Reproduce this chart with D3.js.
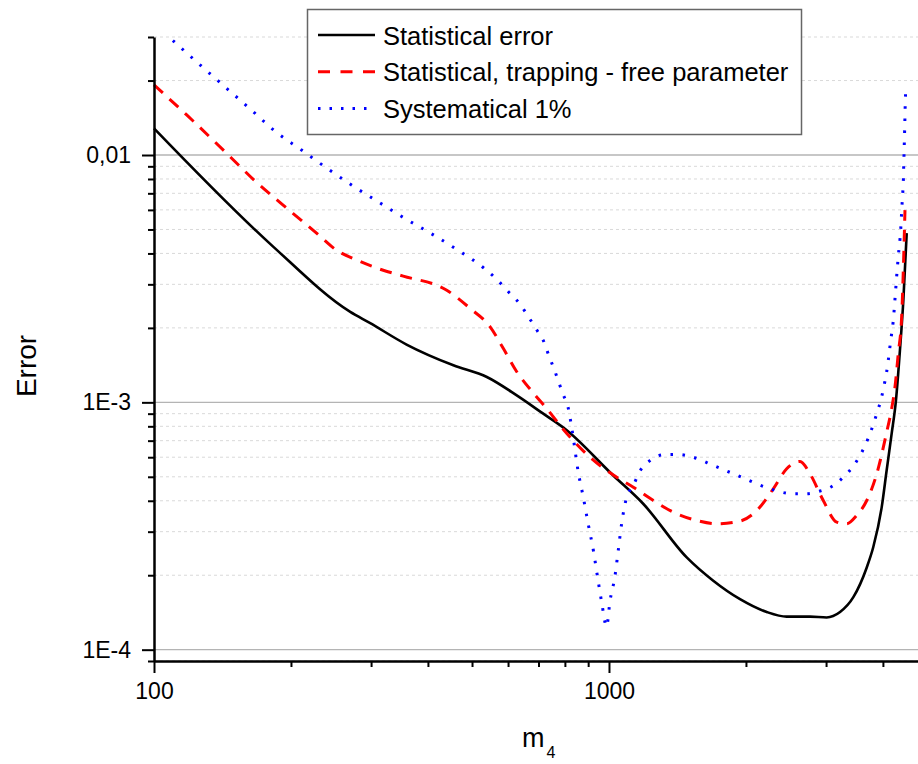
<!DOCTYPE html>
<html>
<head>
<meta charset="utf-8">
<script src="https://d3js.org/d3.v7.min.js"></script>
<style>
  body { margin: 0; background: #fff; }
  svg { display: block; font-family: Arial, "Liberation Sans", sans-serif; }
  .axis .domain { stroke: #000; stroke-width: 2.5; }
  .axis .tick line { stroke: #000; stroke-width: 2; }
  .axis text { font-size: 23px; fill: #000; font-family: Arial, "Liberation Sans", sans-serif; }
</style>
</head>
<body>
<div id="chart"></div>
<script>
// Statistical error (black solid)
const statM = [100, 183, 270, 298, 359, 455, 539, 627, 717, 800, 1022, 1189, 1482, 1695, 1941, 2222, 2458, 2766, 3009, 3220, 3444, 3686, 3810, 3976, 4076, 4181, 4273, 4360, 4436, 4512];
const statErr = [0.01282, 0.004253, 0.00232, 0.002095, 0.001713, 0.001412, 0.001266, 0.001067, 0.0009, 0.000782, 0.000506, 0.000389, 0.000236, 0.00019, 0.00016, 0.000142, 0.000136, 0.000136, 0.000135, 0.000142, 0.000163, 0.000215, 0.00026, 0.000377, 0.00053, 0.000747, 0.001019, 0.001624, 0.002588, 0.004833];

// Statistical, trapping - free parameter (red dashed)
const trapM = [100, 118, 147, 163, 202, 228, 252, 279, 319, 353, 440, 495, 548, 586, 627, 682, 730, 794, 908, 1040, 1131, 1252, 1384, 1558, 1725, 1941, 2112, 2297, 2458, 2630, 2766, 2958, 3166, 3330, 3503, 3686, 3877, 4076, 4181, 4252, 4323, 4398, 4473];
const trapErr = [0.0192, 0.01452, 0.00984, 0.00817, 0.00581, 0.00482, 0.00412, 0.00376, 0.00342, 0.00324, 0.00284, 0.0024, 0.00202, 0.00165, 0.00133, 0.00109, 0.000943, 0.000777, 0.0006, 0.000498, 0.000454, 0.000401, 0.00036, 0.000333, 0.000323, 0.000331, 0.000365, 0.000447, 0.000539, 0.000577, 0.000514, 0.000401, 0.000328, 0.000323, 0.000349, 0.000401, 0.000514, 0.000756, 0.000943, 0.001153, 0.001575, 0.002215, 0.005988];

// Systematical 1% (blue dotted)
const sysM = [110, 125, 143, 163, 185, 211, 240, 274, 313, 356, 406, 463, 529, 564, 601, 638, 665, 694, 721, 738, 758, 775, 794, 813, 832, 856, 878, 900, 924, 944, 964, 988, 1005, 1031, 1048, 1066, 1094, 1131, 1166, 1231, 1316, 1409, 1507, 1710, 1957, 2222, 2542, 2710, 2899, 3088, 3289, 3473, 3611, 3715, 3810, 3892, 3968, 4022, 4073, 4110, 4146, 4181, 4215, 4258, 4289, 4323, 4376, 4406, 4436, 4452, 4467, 4481, 4496];
const sysErr = [0.02903, 0.02351, 0.0189, 0.01531, 0.01243, 0.01047, 0.00884, 0.00749, 0.00642, 0.00554, 0.00482, 0.00415, 0.00351, 0.00317, 0.0028, 0.00249, 0.00222, 0.00196, 0.00174, 0.00154, 0.00136, 0.00121, 0.00107, 0.000955, 0.000747, 0.000522, 0.000414, 0.000323, 0.000252, 0.000196, 0.000155, 0.000124, 0.000157, 0.000199, 0.000252, 0.000323, 0.000414, 0.000461, 0.000522, 0.000582, 0.000614, 0.000616, 0.000605, 0.000552, 0.000498, 0.000452, 0.000427, 0.000427, 0.000437, 0.000457, 0.000502, 0.000565, 0.000639, 0.000718, 0.000814, 0.00092, 0.001038, 0.001166, 0.001314, 0.001479, 0.001685, 0.001897, 0.002134, 0.002711, 0.003236, 0.003877, 0.004969, 0.006272, 0.007973, 0.01022, 0.01302, 0.0167, 0.0192];

const seriesNames = ["Statistical error", "Statistical, trapping - free parameter", "Systematical 1%"];

const xTickValues = [100, 1000];
const xTickLabels = ["100", "1000"];
const yTickValues = [1e-4, 1e-3, 1e-2];
const yTickLabels = ["1E-4", "1E-3", "0,01"];

const width = 918, height = 764;
const margin = { top: 37, right: -9, bottom: 103, left: 154 };

const svg = d3.select("#chart").append("svg")
  .attr("width", width)
  .attr("height", height);

const x = d3.scaleLog()
  .domain([100, 5000])
  .range([margin.left, width - margin.right]);

const y = d3.scaleLog()
  .domain([9e-5, 0.03])
  .range([height - margin.bottom, margin.top]);

const isMajor = v => Math.abs(Math.log10(v) - Math.round(Math.log10(v))) < 1e-6;
const yMinor = y.ticks().filter(v => !isMajor(v));
const xMinor = x.ticks().filter(v => !isMajor(v));

// grid lines
svg.append("g")
  .selectAll("line")
  .data(yMinor)
  .enter()
  .append("line")
  .attr("x1", margin.left)
  .attr("x2", width)
  .attr("y1", d => y(d))
  .attr("y2", d => y(d))
  .attr("stroke", "#d9d9d9")
  .attr("stroke-width", 1)
  .attr("stroke-dasharray", "3 3");

svg.append("g")
  .selectAll("line")
  .data(yTickValues)
  .enter()
  .append("line")
  .attr("x1", margin.left)
  .attr("x2", width)
  .attr("y1", d => y(d))
  .attr("y2", d => y(d))
  .attr("stroke", "#b4b4b4")
  .attr("stroke-width", 1.3);

// curves
const line = (mArr, eArr) => d3.line()
  .x(i => x(mArr[i]))
  .y(i => y(eArr[i]))
  .curve(d3.curveMonotoneX)(d3.range(mArr.length));

svg.append("path")
  .attr("d", line(statM, statErr))
  .attr("fill", "none")
  .attr("stroke", "#000")
  .attr("stroke-width", 2.6);

svg.append("path")
  .attr("d", line(trapM, trapErr))
  .attr("fill", "none")
  .attr("stroke", "#ff0000")
  .attr("stroke-width", 3)
  .attr("stroke-dasharray", "12 9");

svg.append("path")
  .attr("d", line(sysM, sysErr))
  .attr("fill", "none")
  .attr("stroke", "#0000ff")
  .attr("stroke-width", 3)
  .attr("stroke-dasharray", "2.5 9.5");

// axes
const yAxisMinor = svg.append("g")
  .attr("class", "axis")
  .attr("transform", `translate(${margin.left},0)`)
  .call(d3.axisLeft(y).tickValues(yMinor).tickSize(6).tickSizeOuter(0).tickFormat(""));
yAxisMinor.select(".domain").remove();

svg.append("g")
  .attr("class", "axis")
  .attr("transform", `translate(${margin.left},0)`)
  .call(d3.axisLeft(y).tickValues(yTickValues).tickSize(12).tickSizeOuter(0).tickPadding(11)
    .tickFormat((d, i) => yTickLabels[i]));

const xAxisMinor = svg.append("g")
  .attr("class", "axis")
  .attr("transform", `translate(0,${height - margin.bottom})`)
  .call(d3.axisBottom(x).tickValues(xMinor).tickSize(6).tickSizeOuter(0).tickFormat(""));
xAxisMinor.select(".domain").remove();

svg.append("g")
  .attr("class", "axis")
  .attr("transform", `translate(0,${height - margin.bottom})`)
  .call(d3.axisBottom(x).tickValues(xTickValues).tickSize(12).tickSizeOuter(0).tickPadding(10)
    .tickFormat((d, i) => xTickLabels[i]));

// axis titles
svg.append("text")
  .attr("transform", "translate(36,366) rotate(-90)")
  .attr("text-anchor", "middle")
  .attr("font-size", 28)
  .text("Error");

const xt = svg.append("text")
  .attr("x", 522)
  .attr("y", 747)
  .attr("font-size", 27);
xt.append("tspan").text("m");
xt.append("tspan").attr("font-size", 16).attr("dy", 11).attr("dx", 2).text("4");

// legend
const legend = svg.append("g");
legend.append("rect")
  .attr("x", 307.5).attr("y", 9.5)
  .attr("width", 494).attr("height", 125)
  .attr("fill", "#fff")
  .attr("stroke", "#666")
  .attr("stroke-width", 1.5);

const legendStyles = [
  { color: "#000", dash: null, w: 2.6 },
  { color: "#ff0000", dash: "12 10.5", w: 3 },
  { color: "#0000ff", dash: "2.5 9", w: 3 }
];

seriesNames.forEach((name, i) => {
  const cy = 35 + i * 36.8;
  legend.append("line")
    .attr("x1", 318).attr("x2", 375)
    .attr("y1", cy).attr("y2", cy)
    .attr("stroke", legendStyles[i].color)
    .attr("stroke-width", legendStyles[i].w)
    .attr("stroke-dasharray", legendStyles[i].dash);
  legend.append("text")
    .attr("x", 383)
    .attr("y", cy + 9.5)
    .attr("font-size", 25.5)
    .text(name);
});
</script>
</body>
</html>
